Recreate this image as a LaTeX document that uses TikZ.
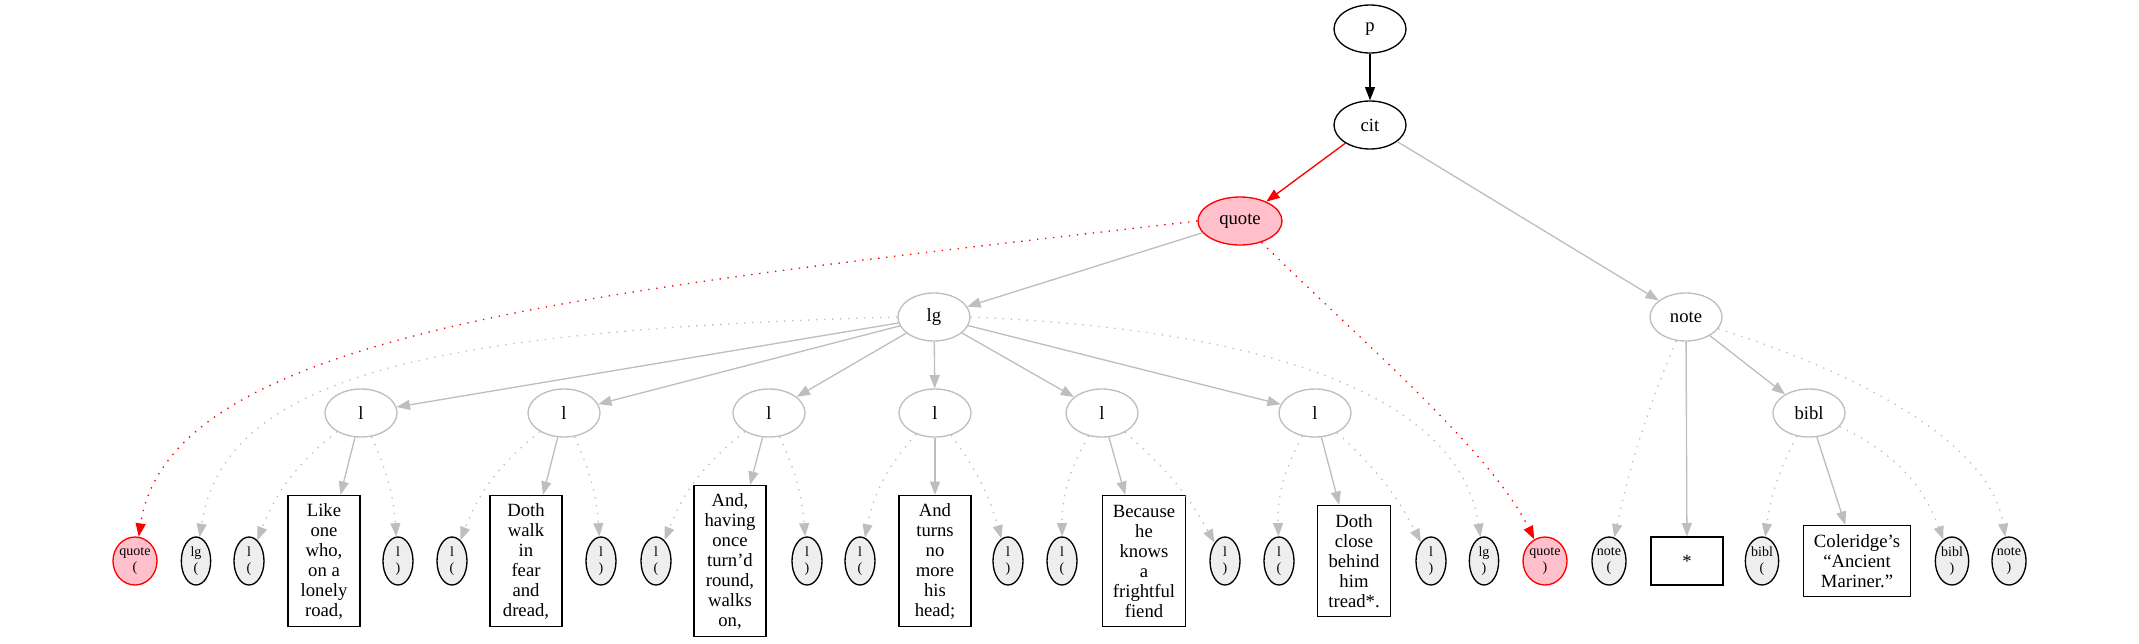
\documentclass[tikz,border=0pt]{standalone}
\usepackage{fontspec}
\setmainfont{Liberation Serif}
\usetikzlibrary{arrows.meta,shapes.geometric}

\definecolor{edgegray}{RGB}{190,190,190}
\definecolor{stubfill}{RGB}{238,238,238}
\definecolor{hitpink}{RGB}{255,192,203}

\begin{document}
\begin{tikzpicture}[x=0.75pt,y=-0.75pt,line width=1pt,
  % Styles
  elem/.style={ellipse,draw,inner sep=0pt,minimum width=54pt,minimum height=36pt,
    font=\fontsize{14}{15}\selectfont},
  faint/.style={elem,draw=edgegray},
  hit/.style={elem,draw=red,fill=hitpink,minimum width=63pt},
  stub/.style={ellipse,draw,fill=stubfill,inner sep=0pt,minimum height=36pt,
    minimum width=#1,align=center,font=\fontsize{10.5}{12.5}\selectfont},
  hitstub/.style={stub=33pt,draw=red,fill=hitpink},
  verse/.style={rectangle,draw,align=center,inner xsep=8pt,inner ysep=0pt,
    minimum width=54pt,minimum height=#1*15pt+8.25pt,
    font=\fontsize{14}{15}\selectfont},
  tip/.style={-{Triangle[length=10pt,width=7.5pt]}},
  branchline/.style={tip,draw=edgegray},
  hitbranch/.style={tip,draw=red},
  tagline/.style={branchline,dash pattern=on 1pt off 5pt},
  hitline/.style={hitbranch,dash pattern=on 1pt off 5pt}]
\useasboundingbox (0,0) rectangle (2139,643);

% the tree
\node[elem] (p) at (1370,29) {p};
\node[elem] (cit) at (1370,125) {cit};
\node[hit] (quote) at (1240,221) {quote};
\node[faint] (lg) at (934,317) {lg};
\node[faint] (note) at (1686,317) {note};
\node[faint] (bibl) at (1809,413) {bibl};
\foreach \n/\x in {1/361,2/564,3/769,4/935,5/1102,6/1315}
  \node[faint] (l\n) at (\x,413) {l};

% start and end milestones
\node[hitstub] (quoteo) at (135,561) {quote\\(};
\node[stub=22pt] (lgo) at (196,561) {lg\\(};
\foreach \n/\xo/\xc in {1/249/398,2/452/601,3/656/807,4/860/1008,5/1062/1225,6/1279/1431} {
  \node[stub=22.5pt] (lo\n) at (\xo,561) {l\\(};
  \node[stub=22.5pt] (lc\n) at (\xc,561) {l\\)};
}
\node[stub=22pt] (lgc) at (1484,561) {lg\\)};
\node[hitstub] (quotec) at (1545,561) {quote\\)};
\node[stub=25.5pt] (noteo) at (1609,561) {note\\(};
\node[stub=25pt] (biblo) at (1762,561) {bibl\\(};
\node[stub=25pt] (biblc) at (1952,561) {bibl\\)};
\node[stub=25.5pt] (notec) at (2009,561) {note\\)};

% the text
\node[verse=6] (t1) at (324,561) {Like\\one\\who,\\on a\\lonely\\road,};
\node[verse=6] (t2) at (526,561) {Doth\\walk\\in\\fear\\and\\dread,};
\node[verse=7] (t3) at (730,561) {And,\\having\\once\\turn’d\\round,\\walks\\on,};
\node[verse=6] (t4) at (935,561) {And\\turns\\no\\more\\his\\head;};
\node[verse=6] (t5) at (1144,561) {Because\\he\\knows\\a\\frightful\\fiend};
\node[verse=5] (t6) at (1354,561) {Doth\\close\\behind\\him\\tread*.};
\node[verse=1,minimum height=36pt] (star) at (1687,561) {*};
\node[verse=3] (cole) at (1857,561) {Coleridge’s\\“Ancient\\Mariner.”};

% edges
\draw[tip] (p) -- (cit);
\draw[hitbranch] (cit) -- (quote);
\draw[branchline] (cit) -- (note);
\draw[branchline] (quote) -- (lg);
\draw[hitline] (quote.west) .. controls (600,290) and (170,330) .. (quoteo);
\draw[hitline] (quote) .. controls (1360,340) and (1490,450) .. (quotec);
\draw[tagline] (lg.west) .. controls (450,330) and (225,370) .. (lgo);
\draw[tagline] (lg.east) .. controls (1280,330) and (1460,400) .. (lgc);
\foreach \n in {1,...,6} {
  \draw[branchline] (lg) -- (l\n);
  \draw[branchline] (l\n) -- (t\n);
  \draw[tagline] (l\n) to[bend right=15] (lo\n);
  \draw[tagline] (l\n) to[bend left=10] (lc\n);
}
\draw[branchline] (note) -- (star);
\draw[branchline] (note) -- (bibl);
\draw[tagline] (note) to[bend right=5] (noteo);
\draw[tagline] (note.-20) .. controls (1850,370) and (1990,440) .. (notec);
\draw[branchline] (bibl) -- (cole);
\draw[tagline] (bibl) to[bend right=10] (biblo);
\draw[tagline] (bibl) to[bend left=22] (biblc);
\end{tikzpicture}
\end{document}
